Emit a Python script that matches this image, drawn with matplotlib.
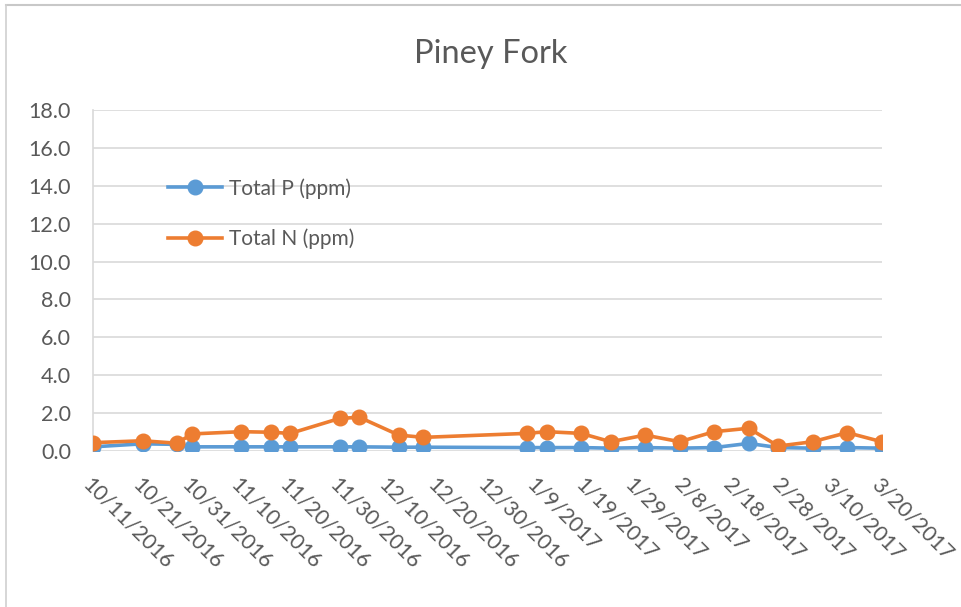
import numpy
import pandas as pd
import matplotlib
matplotlib.use('Agg')
import matplotlib.pyplot as plt
from matplotlib.lines import Line2D

plt.rcParams['font.family'] = ['Lato', 'DejaVu Sans']

# Sampling dates and concentrations
datas = ['2016-10-11', '2016-10-21', '2016-10-28', '2016-10-31', '2016-11-10',
         '2016-11-16', '2016-11-20', '2016-11-30', '2016-12-04', '2016-12-12',
         '2016-12-17', '2017-01-07', '2017-01-11', '2017-01-18', '2017-01-24',
         '2017-01-31', '2017-02-07', '2017-02-14', '2017-02-21', '2017-02-27',
         '2017-03-06', '2017-03-13', '2017-03-20']
total_p = [0.22, 0.38, 0.35, 0.22, 0.22, 0.22, 0.22, 0.22, 0.22, 0.20, 0.20, 0.18,
           0.18, 0.18, 0.15, 0.18, 0.15, 0.18, 0.40, 0.18, 0.15, 0.18, 0.15]
total_n = [0.44, 0.54, 0.41, 0.90, 1.02, 0.99, 0.93, 1.72, 1.78, 0.84, 0.72, 0.93,
           1.02, 0.93, 0.49, 0.84, 0.49, 1.02, 1.20, 0.26, 0.49, 0.97, 0.49]

inicio_eixo = '2016-10-11'
fim_eixo = '2017-03-20'
y_ticks = [0, 2, 4, 6, 8, 10, 12, 14, 16, 18]

cinza_texto = '#595959'
cinza_grade = '#d9d9d9'

fig = plt.figure(figsize=(9.61, 6.07), dpi=100)
ax = fig.add_axes([93.3 / 961, 1 - 451 / 607, (881.7 - 93.3) / 961, (451 - 110) / 607])

x = pd.to_datetime(datas)
ax.plot(x, total_p, color='#5b9bd5', lw=2.6, marker='o', ms=10.5, label='Total P (ppm)', zorder=3)
ax.plot(x, total_n, color='#ed7d31', lw=2.6, marker='o', ms=10.5, label='Total N (ppm)', zorder=4)

ticks_x = pd.date_range(inicio_eixo, fim_eixo, freq='10D')
ax.set_xlim(pd.Timestamp(inicio_eixo), pd.Timestamp(fim_eixo))
ax.set_xticks(ticks_x)
ax.set_xticklabels([f'{d.month}/{d.day}/{d.year}' for d in ticks_x],
                   rotation=-45, ha='left', va='top', rotation_mode='anchor')

ax.set_ylim(0, 18)
ax.set_yticks(y_ticks)
ax.set_yticklabels([f'{v:.1f}' for v in y_ticks])

ax.tick_params(axis='both', length=0, labelsize=15.5, labelcolor=cinza_texto)
ax.tick_params(axis='x', pad=17)
ax.tick_params(axis='y', pad=16)

ax.grid(axis='y', color=cinza_grade, lw=1.2)
ax.set_axisbelow(True)
for lado in ['top', 'right', 'bottom']:
    ax.spines[lado].set_visible(False)
ax.spines['left'].set_color(cinza_grade)
ax.spines['left'].set_linewidth(1.2)

ax.legend(loc='upper left', bbox_to_anchor=(168 / 961, 1 - 178 / 607),
          bbox_transform=fig.transFigure, frameon=False, fontsize=15,
          labelcolor=cinza_texto, borderpad=0, borderaxespad=0,
          handlelength=2.6, handletextpad=0.33, labelspacing=1.45)

fig.text(491 / 961, 1 - 63 / 607, 'Piney Fork', ha='center', va='baseline',
         fontsize=23.5, color=cinza_texto)

# bordas do grafico do Excel que aparecem no recorte
fig.add_artist(Line2D([6 / 961, 1], [1 - 5 / 607, 1 - 5 / 607], transform=fig.transFigure,
                      color='#c8c8c8', lw=1.5))
fig.add_artist(Line2D([6 / 961, 6 / 961], [0, 1 - 5 / 607], transform=fig.transFigure,
                      color='#d0d0d0', lw=1.2))

fig.savefig('out.png', dpi=100, facecolor='white')
